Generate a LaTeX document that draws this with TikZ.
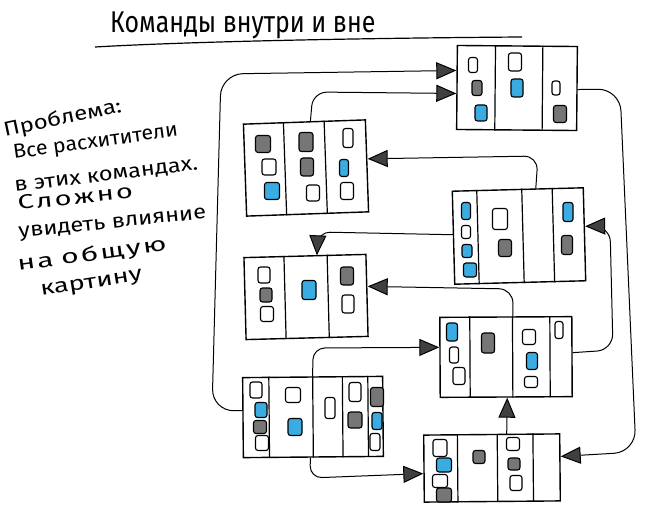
\documentclass[tikz,border=0pt]{standalone}
\usepackage{fontspec}
\setmainfont{Fira Sans}
\usetikzlibrary{arrows.meta,calc}
\definecolor{cblue}{RGB}{58,172,226}
\definecolor{cgray}{RGB}{118,118,118}
\begin{document}
\begin{tikzpicture}[x=1pt,y=-1pt,
  board/.style={draw, line width=1.4pt, inner sep=0pt, rectangle},
  card/.style={draw, line width=1.1pt, rounded corners=2.5pt, inner sep=0pt},
  divider/.style={line width=1.2pt},
  arr/.style={line width=1pt, -{Triangle[length=20pt,width=17pt,fill=black!75]}},
  hand/.style={font=\fontsize{20}{24}\selectfont, anchor=base west, inner sep=0pt},
  titletext/.style={font=\fontsize{30}{34}\selectfont, anchor=base west, inner sep=0pt}]
\useasboundingbox (0,0) rectangle (648,513);

% title
\node[titletext, xscale=0.83] (title) at (110,33) {Команды внутри и вне};
\draw[line width=1.2pt] (95,47) .. controls (200,41) and (380,38) .. (522,37);

% left text
\node[hand, rotate=12, xscale=1.2] (t1) at (5,137) {Проблема:};
\node[hand, rotate=8, xscale=1.07] (t2) at (14,159) {Все расхитители};
\node[hand, rotate=7, xscale=1.18] (t3) at (15,192) {в этих командах.};
\node[hand, rotate=6, xscale=1.45] (t4) at (18,210) {С\kern1.5pt л\kern1.5pt о\kern1.5pt ж\kern1.5pt н\kern1.5pt о};
\node[hand, rotate=6, xscale=1.18] (t5) at (19,238) {увидеть влияние};
\node[hand, rotate=8, xscale=1.5] (t6) at (18,271) {н\kern1.5pt а о\kern1.5pt б\kern1.5pt щ\kern1.5pt у\kern1.5pt ю};
\node[hand, rotate=9, xscale=1.37] (t7) at (41,296) {картину};

% boards
\node[board, minimum width=120pt, minimum height=84pt, rotate=-0.5] (b1) at (517,88) {};
\node[board, minimum width=122pt, minimum height=92pt, rotate=2] (b2) at (306,168) {};
\node[board, minimum width=131pt, minimum height=93pt, rotate=1.5] (b3) at (519,236) {};
\node[board, minimum width=122pt, minimum height=82pt, rotate=1.5] (b4) at (306,297) {};
\node[board, minimum width=132pt, minimum height=80pt, rotate=0.3] (b5) at (506,357) {};
\node[board, minimum width=140pt, minimum height=80pt, rotate=0.5] (b6) at (313,417) {};
\node[board, minimum width=136pt, minimum height=67pt, rotate=0.5] (b7) at (492,468) {};

% column dividers
\foreach \b/\f in {b1/0.32, b1/0.71, b2/0.33, b2/0.66, b3/0.19, b3/0.53, b3/0.76,
                   b4/0.33, b4/0.68, b5/0.23, b5/0.55, b5/0.83,
                   b6/0.19, b6/0.5, b6/0.71, b6/0.89, b7/0.25, b7/0.54, b7/0.8}
  \draw[divider] ($(\b.north west)!\f!(\b.north east)$) -- ($(\b.south west)!\f!(\b.south east)$);

% cards
\foreach \n/\x/\y/\w/\h/\c in {
  c1a/473/65/9/15/white, c1b/477/88/10/15/cgray, c1c/481/113/12/16/cblue,
  c1d/515/62/13/18/white, c1e/517/88/12/18/cblue, c1f/556/88/8/14/white, c1g/560/114/13/17/cgray,
  c2a/263/144/15/17/cgray, c2b/269/167/14/16/white, c2c/272/191/15/17/cblue,
  c2d/306/142/14/19/cgray, c2e/307/167/13/18/cgray, c2f/313/193/13/16/white,
  c2g/348/138/10/19/white, c2h/344/168/9/17/cblue, c2i/347/191/13/17/white,
  c3a/466/211/9/17/cblue, c3b/466/232/9/13/white, c3c/467/251/10/13/cblue, c3d/470/270/13/14/cblue,
  c3e/500/219/15/21/white, c3f/505/248/13/17/cgray, c3g/568/212/10/19/cblue, c3h/567/245/11/19/cgray,
  c4a/264/275/12/16/white, c4b/266/295/12/14/cgray, c4c/267/314/13/15/white,
  c4d/309/290/14/19/cblue, c4e/347/276/13/18/cgray, c4f/348/304/12/18/white,
  c5a/452/332/11/18/cblue, c5b/454/355/9/16/white, c5c/459/376/12/17/white,
  c5d/488/343/13/20/cgray, c5e/529/337/13/15/white, c5f/532/361/11/17/cblue, c5g/531/382/13/11/white,
  c5h/559/330/8/17/white,
  c6a/256/390/12/16/white, c6b/261/410/12/15/cblue, c6c/260/427/13/13/cgray, c6d/262/443/13/15/white,
  c6e/293/395/15/15/white, c6f/295/427/14/17/cblue, c6g/330/408/10/21/white,
  c6h/355/392/12/19/white, c6i/355/420/14/16/cgray,
  c6j/377/397/13/19/cgray, c6k/377/421/10/17/cblue, c6l/375/442/10/17/white,
  c7a/440/448/14/17/white, c7b/444/465/15/14/cblue, c7c/440/481/15/13/white, c7d/444/495/15/14/cgray,
  c7e/479/457/12/13/cgray, c7f/513/444/13/13/white, c7g/514/464/12/12/cgray, c7h/516/483/12/15/white}
  \node[card, fill=\c, minimum width=\w pt, minimum height=\h pt] (\n) at (\x,\y) {};

% connectors
\draw[arr, rounded corners=22pt] ([yshift=7pt]b6.west) -- (212,411) -- (221,74) -- ([yshift=17pt]b1.west);
\draw[arr, rounded corners=14pt] ([xshift=6pt]b2.north) -- (313,92) -- ([yshift=-6pt]b1.west);
\draw[arr, rounded corners=14pt] ([xshift=18pt]b3.north) -- (538,156) -- ([yshift=7pt]b2.east);
\draw[arr, rounded corners=12pt] ([yshift=3pt]b3.west) -- (318,232) -- ([xshift=12pt]b4.north);
\draw[arr, rounded corners=14pt] ([xshift=7pt]b5.north) -- (513,289) -- ([yshift=9pt]b4.east);
\draw[arr, rounded corners=12pt] (b6.north) -- (313,348) -- ([yshift=10pt]b5.west);
\draw[arr, rounded corners=12pt] ([xshift=-3pt]b6.south) -- (310,478) -- ([yshift=-5pt]b7.west);
\draw[arr] ([xshift=15pt]b7.north) -- ([xshift=1pt]b5.south);
\draw[arr, rounded corners=22pt] ([yshift=-1pt]b1.east) -- (620,89) -- (636,452) -- ([yshift=11pt]b7.east);
\draw[arr, rounded corners=16pt] ([yshift=4pt]b5.east) -- (613,350) -- (610,226) -- ([yshift=8pt]b3.east);
\end{tikzpicture}
\end{document}
